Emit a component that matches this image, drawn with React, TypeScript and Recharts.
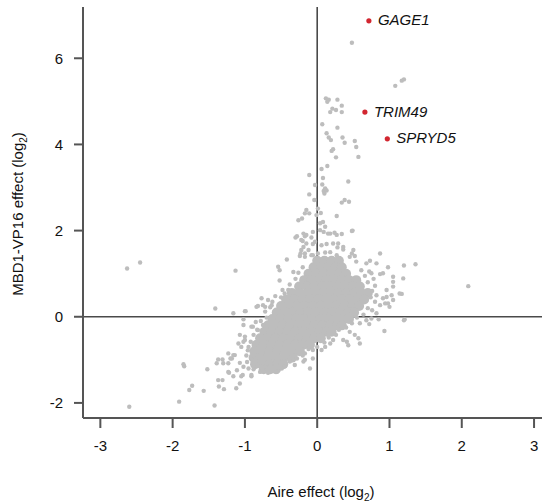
import { ReferenceLine, Scatter, ScatterChart, XAxis, YAxis } from 'recharts';

const xTicks = [-3, -2, -1, 0, 1, 2, 3];
const yTicks = [-2, 0, 2, 4, 6];

// dense centre of the cloud, read row by row: [y, x values]
const coreRows: Array<[number, number[]]> = [
  [1.3, [0.0, 0.1, 0.2, 0.3]],
  [1.15, [-0.05, 0.05, 0.15, 0.25, 0.34]],
  [1.0, [-0.12, -0.02, 0.09, 0.19, 0.3, 0.4]],
  [0.85, [-0.18, -0.08, 0.03, 0.13, 0.24, 0.34, 0.44, 0.54]],
  [0.7, [-0.25, -0.14, -0.04, 0.07, 0.17, 0.28, 0.38, 0.49, 0.59]],
  [0.55, [-0.35, -0.24, -0.13, -0.02, 0.09, 0.19, 0.3, 0.4, 0.51, 0.61, 0.7]],
  [0.4, [-0.43, -0.32, -0.21, -0.1, 0.01, 0.12, 0.23, 0.34, 0.45, 0.56, 0.65]],
  [0.25, [-0.5, -0.39, -0.28, -0.17, -0.06, 0.05, 0.16, 0.27, 0.38, 0.49, 0.58]],
  [0.1, [-0.56, -0.45, -0.34, -0.23, -0.12, -0.01, 0.1, 0.21, 0.32, 0.43, 0.51]],
  [-0.05, [-0.62, -0.51, -0.4, -0.29, -0.18, -0.07, 0.04, 0.15, 0.26, 0.36, 0.44]],
  [-0.2, [-0.68, -0.59, -0.48, -0.37, -0.26, -0.15, -0.04, 0.07, 0.18, 0.28, 0.34]],
  [-0.35, [-0.73, -0.63, -0.52, -0.41, -0.3, -0.19, -0.08, 0.03, 0.13, 0.2]],
  [-0.5, [-0.79, -0.69, -0.58, -0.47, -0.36, -0.25, -0.14, -0.04, 0.05]],
  [-0.65, [-0.84, -0.74, -0.63, -0.52, -0.41, -0.3, -0.19, -0.1]],
  [-0.8, [-0.87, -0.77, -0.66, -0.55, -0.44, -0.33, -0.24]],
  [-0.95, [-0.88, -0.79, -0.68, -0.57, -0.46, -0.35]],
  [-1.1, [-0.86, -0.77, -0.66, -0.55, -0.47]],
  [-1.22, [-0.74, -0.65, -0.57]],
];

// scattered genes outside the dense centre: [aire, mbd1]
const spreadPoints: Array<[number, number]> = [
  [0.48, 6.36], [1.08, 5.36], [1.17, 5.48], [1.2, 5.51],
  [0.12, 5.07], [0.16, 5.04], [0.14, 4.99], [0.28, 5.04], [0.34, 4.9], [0.21, 4.83],
  [0.26, 4.8], [0.18, 4.75], [0.34, 4.75], [0.07, 4.47], [0.28, 4.39], [0.13, 4.26],
  [0.16, 4.16], [0.35, 4.16], [0.19, 4.1], [0.38, 4.04], [0.52, 4.08], [0.54, 3.94],
  [0.22, 3.89], [0.2, 3.85], [0.26, 3.7], [0.57, 3.71], [0.06, 3.43], [0.14, 3.5],
  [-0.11, 3.29], [0.08, 3.22], [0.43, 3.14], [-0.03, 3.06], [0.07, 3.07], [0.09, 2.92],
  [-0.11, 2.84], [0.13, 2.93], [0.11, 2.98], [0.1, 2.86], [-0.04, 2.71], [0.34, 2.65],
  [0.38, 2.71], [0.44, 2.67], [-0.15, 2.48], [-0.11, 2.4], [-0.17, 2.4], [0.01, 2.51],
  [0.05, 2.41], [-0.01, 2.36], [-0.26, 2.24], [-0.21, 2.28], [0.27, 2.34], [0.04, 2.17],
  [0.08, 2.2], [0.11, 2.09], [-0.3, 1.84], [-0.17, 1.87], [-0.08, 1.84], [0.04, 2.01],
  [0.09, 1.97], [0.18, 1.93], [0.24, 1.95], [0.34, 1.92], [0.49, 2.0], [-0.2, 1.76],
  [-0.06, 1.69], [0.06, 1.66], [0.13, 1.69], [0.29, 1.7], [0.28, 1.61], [-0.22, 1.55],
  [-0.24, 1.41], [-0.42, 1.33], [0.01, 1.47], [0.11, 1.49], [0.18, 1.5], [0.36, 1.56],
  [0.48, 1.47], [0.52, 1.41], [0.87, 1.47], [-0.54, 1.16], [-0.52, 1.08], [-0.33, 1.04],
  [-0.52, 0.84], [0.73, 1.3], [0.82, 1.24], [0.98, 1.15], [1.2, 1.19], [1.36, 1.22],
  [0.87, 0.99], [1.05, 0.93], [1.19, 0.89], [2.09, 0.71], [1.05, 0.7], [1.17, 0.53],
  [0.96, 0.46], [1.05, 0.39], [0.94, 0.31], [1.0, 0.23], [1.21, -0.06],
  [-0.19, 1.93], [-0.06, 1.97], [0.15, 1.93], [0.27, 1.9], [0.48, 1.99], [-0.15, 1.7],
  [-0.03, 1.74], [0.22, 1.7], [0.36, 1.62], [0.5, 1.55], [-0.17, 1.47], [-0.06, 1.43],
  [0.27, 1.43], [0.45, 1.39], [0.54, 1.28], [0.68, 1.24], [0.61, 1.08], [0.75, 1.01],
  [0.91, 1.01], [1.05, 0.81], [0.96, 0.62], [1.03, 0.5], [1.14, 0.54], [0.91, 0.43],
  [0.98, 0.31], [0.87, 0.27], [0.82, 0.08], [0.85, -0.06],
  [0.59, -0.15], [0.68, -0.08], [0.72, -0.17], [0.75, -0.04], [0.93, -0.33], [1.2, -0.08],
  [0.45, -0.35], [0.52, -0.42], [0.57, -0.5], [0.59, -0.62], [0.41, -0.58], [0.43, -0.66],
  [0.36, -0.54], [0.22, -0.54], [0.18, -0.62], [0.11, -0.7], [0.06, -0.77], [-0.1, -1.2],
  [-0.19, -1.04], [-0.28, -0.97], [-0.06, -0.97], [-0.17, -0.85], [-0.06, -0.77],
  [-0.38, -1.04], [-0.31, -1.12], [-0.17, -1.0],
  [-2.63, 1.12], [-2.45, 1.26], [-1.13, 1.07], [-1.41, 0.19], [-1.16, 0.08], [-1.0, 0.13],
  [-0.82, 0.25], [-1.02, -0.06], [-0.89, -0.23], [-0.75, 0.27], [-0.65, 0.22], [-1.02, -0.19],
  [-0.82, -0.31], [-0.75, -0.19], [-0.85, -0.12], [-0.91, -0.23], [-0.77, 0.43], [-0.72, 0.23],
  [-0.84, 0.23], [-0.99, 0.13], [-0.68, 0.39], [-0.63, 0.27], [-0.45, 0.54], [-0.4, 0.62],
  [-0.28, 1.87], [-0.22, 1.78], [-0.15, 1.9], [-0.19, 1.62], [-0.12, 1.55], [-0.08, 1.43],
  [-0.23, 1.47], [-0.17, 1.39],
  [-2.6, -2.09], [-1.91, -1.97], [-1.42, -2.06], [-1.85, -1.1], [-1.84, -1.15], [-1.73, -1.6],
  [-1.77, -1.7], [-1.57, -1.72], [-1.52, -1.22], [-1.39, -1.08], [-1.31, -0.99], [-1.37, -1.47],
  [-1.31, -1.47], [-1.36, -1.62], [-1.29, -1.68], [-1.23, -1.28], [-1.16, -1.38], [-1.12, -1.66],
  [-1.07, -1.55], [-1.23, -1.08], [-1.18, -0.97], [-1.14, -0.89], [-1.07, -0.42], [-1.0, -0.54],
  [-0.95, -0.7], [-1.03, -1.35], [-0.91, -1.35], [-0.89, -1.0], [-0.82, -1.12], [-0.79, -1.28],
  [-0.72, -1.16], [-1.0, -0.46], [-1.09, -0.62], [-1.05, -0.7], [-1.02, -0.58], [-1.23, -0.85],
  [-1.16, -0.89], [-1.2, -0.97], [-1.37, -0.99], [-1.3, -1.08], [-1.07, -1.07], [-1.02, -1.16],
  [-0.95, -1.2], [-1.22, -1.3], [-1.11, -1.24], [-1.05, -1.38], [-0.91, -1.38], [-0.75, -1.24],
  [-0.65, -1.16], [-0.56, -1.28], [-0.49, -1.2],
  // ragged rim around the dense centre
  [0.72, 1.05], [0.66, 0.95], [0.78, 0.88], [0.7, 0.8], [0.8, 0.72], [0.76, 0.6], [0.82, 0.5],
  [0.74, 0.45], [0.8, 0.35], [0.7, 0.2], [0.76, 0.15], [0.64, 0.05],
  [-0.62, 0.35], [-0.58, 0.48], [-0.5, 0.45], [-0.48, 0.62], [-0.38, 0.75], [-0.3, 0.88],
  [-0.26, 1.02], [-0.2, 1.15], [-0.72, 0.12], [-0.7, -0.02], [-0.78, -0.1], [-0.83, -0.3],
  [-0.88, -0.42], [-0.92, -0.58], [-0.96, -0.78], [-0.98, -0.9], [-0.97, -1.05],
  [-0.88, -1.22], [-0.68, -1.3], [-0.45, -1.15], [-0.38, -0.95], [-0.3, -0.9], [-0.2, -0.9],
  [-0.12, -0.75], [0.0, -0.7], [0.1, -0.6], [0.16, -0.48], [0.26, -0.42], [0.3, -0.3],
  [0.4, -0.25], [0.48, -0.15], [0.55, -0.02],
];

const geneNames = ['GAGE1', 'TRIM49', 'SPRYD5'];
const geneAire = [0.715, 0.66, 0.97];
const geneMbd1 = [6.87, 4.75, 4.13];

const coreData = coreRows.flatMap(([y, xs]) => xs.map((x) => ({ x, y })));
const spreadData = spreadPoints.map(([x, y]) => ({ x, y }));
const geneData = geneNames.map((name, i) => ({ name, x: geneAire[i], y: geneMbd1[i] }));

const FONT = '"Liberation Sans", Arial, Helvetica, sans-serif';
const GREY = '#bdbdbd';
const AXIS = '#555555';

const greyDot = (r: number) => (p: any) => <circle cx={p.cx} cy={p.cy} r={r} fill={GREY} />;

const geneDot = (p: any) => (
  <g>
    <circle cx={p.cx} cy={p.cy} r={2.6} fill="#d22630" />
    <text
      x={p.cx + 9}
      y={p.cy}
      dy="0.3em"
      fontSize={15}
      fontStyle="italic"
      fill="#111"
      fontFamily={FONT}
    >
      {p.payload?.name ?? p.name}
    </text>
  </g>
);

export default function App() {
  return (
    <div style={{ position: 'absolute', left: 0, top: 0, width: 542, height: 504, fontFamily: FONT, background: '#fff' }}>
      <ScatterChart width={542} height={504} margin={{ top: 7, right: 0, bottom: 0, left: 0 }}>
        <XAxis
          type="number"
          dataKey="x"
          domain={[-3.24, 3.11]}
          ticks={xTicks}
          interval={0}
          allowDataOverflow
          height={86}
          stroke={AXIS}
          strokeWidth={2}
          tickSize={10}
          tickMargin={12}
          tick={{ fill: '#111', fontSize: 15 }}
        />
        <YAxis
          type="number"
          dataKey="y"
          domain={[-2.35, 7.19]}
          ticks={yTicks}
          interval={0}
          allowDataOverflow
          width={83}
          stroke={AXIS}
          strokeWidth={2}
          tickSize={9}
          tickMargin={11}
          tick={{ fill: '#111', fontSize: 15 }}
        />
        <Scatter data={coreData} shape={greyDot(5)} isAnimationActive={false} />
        <Scatter data={spreadData} shape={greyDot(2.2)} isAnimationActive={false} />
        <ReferenceLine x={0} stroke="#4a4a4a" strokeWidth={1.6} />
        <ReferenceLine y={0} stroke="#4a4a4a" strokeWidth={1.6} />
        <Scatter data={geneData} shape={geneDot} isAnimationActive={false} />
      </ScatterChart>
      <svg
        width={542}
        height={504}
        style={{ position: 'absolute', left: 0, top: 0, pointerEvents: 'none' }}
      >
        <text x={321} y={497} textAnchor="middle" fontSize={15} fill="#111" fontFamily={FONT}>
          Aire effect (log<tspan fontSize={10} dy={4}>2</tspan><tspan dy={-4}>)</tspan>
        </text>
        <text
          x={23}
          y={214}
          transform="rotate(-90 23 214)"
          textAnchor="middle"
          fontSize={15}
          fill="#111"
          fontFamily={FONT}
        >
          MBD1-VP16 effect (log<tspan fontSize={10} dy={4}>2</tspan><tspan dy={-4}>)</tspan>
        </text>
      </svg>
    </div>
  );
}
